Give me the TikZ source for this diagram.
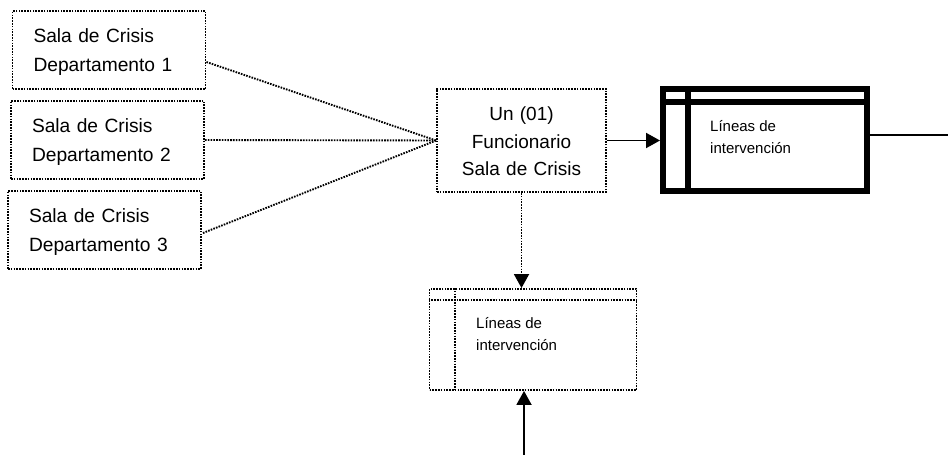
\documentclass[tikz,border=0pt]{standalone}
\usepackage{fontspec}
\setmainfont{Liberation Sans}
\usetikzlibrary{arrows.meta,calc}
\tikzset{
  x=1pt,y=-1pt,
  dotline/.style={draw=black,line width=1.9pt,dash pattern=on 1.6pt off 1.2pt},
  dotbox/.style={dotline,minimum height=#1,inner ysep=0pt},
  salabox/.style={dotbox=78pt,text width=151pt,inner xsep=21pt,align=left,font=\fontsize{19.2}{29}\selectfont,execute at begin node={\rule{0pt}{18pt}}},
  funcbox/.style={dotbox=103pt,text width=165pt,inner xsep=2pt,align=center,font=\fontsize{19}{27.5}\selectfont,execute at begin node={\rule{0pt}{16pt}}},
  tabletext/.style={inner sep=0pt,align=left,anchor=north west,font=\fontsize{15}{22.5}\selectfont},
  solidline/.style={draw=black,line width=1.9pt},
  tip/.style={-{Triangle[length=14pt,width=15pt]}}
}
\begin{document}
\begin{tikzpicture}
\useasboundingbox (0,0) rectangle (948,455);
\node[salabox] (s1) at (109,50) {Sala de Crisis\\Departamento 1};
\node[salabox] (s2) at (107.5,140) {Sala de Crisis\\Departamento 2};
\node[salabox] (s3) at (104.5,230) {Sala de Crisis\\Departamento 3};
\node[funcbox] (f) at (521.5,140.5) {Un (01)\\Funcionario\\Sala de Crisis};
% thick table
\node[draw=black,line width=6pt,minimum width=204pt,minimum height=102pt,inner sep=0pt] (t) at (765,140) {};
\draw[line width=6pt] ($(t.north west)+(0,16)$) -- ($(t.north east)+(0,16)$);
\draw[line width=6pt] ($(t.north west)+(28,0)$) -- ($(t.south west)+(28,0)$);
\node[tabletext] (tt) at (710,120) {Líneas de\\intervención};
% dotted table
\node[dotbox=101pt,minimum width=207pt,inner sep=0pt] (d) at (533,339.5) {};
\draw[dotline] ($(d.north west)+(0,12)$) -- ($(d.north east)+(0,12)$);
\draw[dotline] ($(d.north west)+(26,0)$) -- ($(d.south west)+(26,0)$);
\node[tabletext] (dt) at (476,317) {Líneas de\\intervención};
% connectors
\coordinate (fin) at (f.west);
\draw[dotline] ($(s1.east)+(0,12)$) -- (fin);
\draw[dotline] (s2.east) -- (fin);
\draw[dotline] ($(s3.east)+(1,3)$) -- (fin);
\draw[solidline,tip] (f.east) -- (t.west |- f.east);
\coordinate (exit) at (948,135);
\draw[solidline] (t.east |- exit) -- (exit);
\draw[dotline,tip] (f.south) -- (f.south |- d.north);
\coordinate (bot) at (524,455);
\draw[solidline,tip] (bot) -- (bot |- d.south);
\end{tikzpicture}
\end{document}
